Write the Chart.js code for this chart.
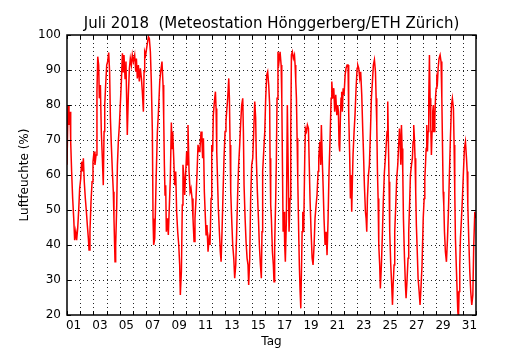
<!DOCTYPE html>
<html>
<head>
<meta charset="utf-8">
<script src="https://cdn.jsdelivr.net/npm/chart.js@4.4.1/dist/chart.umd.min.js"></script>
<style>html,body{margin:0;padding:0;background:#fff;overflow:hidden}canvas{display:block}</style>
</head>
<body>
<canvas id="chart" width="530" height="350"></canvas>
<script>
const titleText = 'Juli 2018  (Meteostation Hönggerberg/ETH Zürich)';
const xAxisLabel = 'Tag';
const yAxisLabel = 'Luftfeuchte (%)';
const labelDays = [1,3,5,7,9,11,13,15,17,19,21,23,25,27,29,31];
const dayLabels = ['01','03','05','07','09','11','13','15','17','19','21','23','25','27','29','31'];
const yTickValues = [20,30,40,50,60,70,80,90,100];

// [day of July (fractional), relative humidity %]
const days01to06 = [
[1.00,62.9],[1.08,80],[1.15,74.3],[1.23,78.1],[1.28,69.5],[1.35,61],[1.43,53.3],[1.51,47.6],[1.58,41.4],[1.66,43.8],
[1.73,41.4],[1.81,44.8],[1.88,49.5],[1.96,56.2],[2.04,59],[2.11,63.8],[2.19,61],[2.24,64.8],[2.31,58],[2.39,53.3],
[2.47,49.5],[2.54,45.7],[2.62,41.9],[2.67,38.6],[2.74,43.8],[2.82,52.4],[2.90,58.1],[2.97,63.8],[3.05,66.7],[3.12,62.9],
[3.20,65.7],[3.27,83.8],[3.33,93.8],[3.40,91.4],[3.45,81.9],[3.53,85.7],[3.60,72.4],[3.68,64.8],[3.75,57.1],[3.81,72.4],
[3.86,80],[3.93,85.7],[4.01,91.4],[4.08,92.4],[4.16,95],[4.23,89.5],[4.29,76.2],[4.36,68.6],[4.44,61],[4.51,55.2],
[4.56,47.6],[4.64,35.2],[4.69,40],[4.77,51.4],[4.82,62.9],[4.89,69.5],[4.97,74.3],[5.04,80],[5.12,86.7],[5.20,94.8],
[5.25,89.5],[5.32,94.3],[5.40,87.6],[5.47,92.4],[5.52,81.9],[5.57,71.4],[5.65,82.9],[5.73,90.5],[5.80,93.3],[5.88,91.4],
[5.95,94.3],[6.03,92.4]
];
const days06to11 = [
[6.13,94.3],[6.21,89.5],[6.26,93.3],[6.33,87.6],[6.41,91.4],[6.48,86.7],[6.56,90.5],[6.64,87.6],[6.71,83.8],[6.79,78.1],
[6.84,89.5],[6.89,95.2],[6.96,94.3],[7.07,97.1],[7.17,99.5],[7.24,99],[7.32,95.2],[7.39,86.7],[7.47,72.4],[7.52,47.6],
[7.57,40],[7.65,41.9],[7.70,49.5],[7.77,61],[7.85,72.4],[7.92,77.1],[8.03,86.7],[8.10,89.5],[8.20,92.4],[8.28,85.7],
[8.33,76.2],[8.38,62.9],[8.43,54.3],[8.48,57.1],[8.53,43.8],[8.61,47.6],[8.68,42.9],[8.76,51.4],[8.83,59],[8.91,75],
[8.96,67.6],[9.01,72.4],[9.09,64.8],[9.16,57.1],[9.24,61],[9.31,49.5],[9.39,43.8],[9.47,40],[9.54,34.3],[9.59,25.7],
[9.67,32.4],[9.74,51.4],[9.79,62.9],[9.87,59],[9.92,54.3],[10.00,61],[10.07,66.7],[10.12,62.9],[10.17,74.3],[10.25,61],
[10.33,55.2],[10.40,56.2],[10.48,53.3],[10.55,47.6],[10.63,41],[10.70,47.6],[10.78,53.3],[10.86,61],[10.93,68.6],[11.01,66.7],
[11.08,67.6],[11.16,72.4],[11.23,69.5]
];
const days11to16 = [
[11.28,64.8],[11.34,70.5],[11.41,55.2],[11.49,47.6],[11.54,42.9],[11.61,45.7],[11.69,38.1],[11.77,41.9],[11.84,40],[11.92,53.3],
[11.97,68.6],[12.04,66.7],[12.09,77.1],[12.17,81],[12.25,83.8],[12.30,79],[12.35,66.7],[12.40,60],[12.47,50.5],[12.55,43.8],
[12.62,38.1],[12.68,35.2],[12.75,43.8],[12.83,55.2],[12.90,64.8],[12.98,72.4],[13.05,75.2],[13.10,78.1],[13.18,81.9],[13.26,87.6],
[13.31,81.9],[13.36,68.6],[13.41,55.2],[13.48,47.6],[13.56,40],[13.64,36.2],[13.71,30.5],[13.79,34.3],[13.86,43.8],[13.94,55.2],
[14.01,62.9],[14.09,68.6],[14.17,75.2],[14.24,80],[14.32,81.9],[14.37,72.4],[14.42,57.1],[14.50,47.6],[14.57,41],[14.65,36.2],
[14.72,34.3],[14.77,28.6],[14.85,36.2],[14.92,53.3],[15.00,62.9],[15.08,64.8],[15.15,72.4],[15.23,81],[15.30,76.2],[15.35,64.8],
[15.43,55.2],[15.51,47.6],[15.58,40],[15.66,34.3],[15.73,30.5],[15.78,43.8],[15.83,61],[15.91,66.7],[15.99,72.4],[16.06,81.9],
[16.14,88.6],[16.21,89.5],[16.29,85.7],[16.36,80]
];
const days16to21 = [
[16.39,64.8],[16.44,51.4],[16.49,47.6],[16.57,38.1],[16.64,34.3],[16.69,29.5],[16.74,40],[16.82,53.3],[16.87,64.8],[16.92,81.9],
[16.99,95.2],[17.07,92.4],[17.15,95.2],[17.23,91.4],[17.28,81.9],[17.33,62.9],[17.38,43.8],[17.45,49.5],[17.50,40],[17.55,35.2],
[17.63,47.6],[17.70,80],[17.78,58.1],[17.83,43.8],[17.91,53.3],[17.96,72.4],[18.01,94.3],[18.08,95.2],[18.16,93.3],[18.24,94.3],
[18.29,91.4],[18.34,86.7],[18.39,81.9],[18.44,70.5],[18.49,59],[18.56,43.8],[18.61,34.3],[18.67,26.7],[18.72,21.9],[18.77,32.4],
[18.82,43.8],[18.87,49.5],[18.94,43.8],[19.02,64.8],[19.07,73.3],[19.15,72.4],[19.22,74.3],[19.30,73.3],[19.35,64.8],[19.42,53.3],
[19.50,43.8],[19.58,36.2],[19.65,34.3],[19.73,40],[19.80,47.6],[19.88,51.4],[19.95,54.3],[20.03,61],[20.08,64.8],[20.16,69.5],
[20.23,62.9],[20.28,74.3],[20.36,62.9],[20.41,57.1],[20.48,47.6],[20.56,40],[20.64,43.8],[20.71,37.1],[20.79,47.6],[20.86,61],
[20.94,70.5],[21.02,81.9],[21.07,86.7],[21.14,81.9],[21.22,84.8],[21.29,78.1],[21.37,82.9],[21.45,77.1],[21.52,80]
];
const days21to26 = [
[21.57,78.1],[21.62,68.6],[21.67,66.7],[21.72,76.2],[21.77,81.9],[21.82,83.8],[21.87,78.1],[21.93,84.8],[22.00,82.9],[22.08,88.6],
[22.15,90.5],[22.23,91.4],[22.30,91.4],[22.35,78.1],[22.43,64.8],[22.48,53.3],[22.53,60],[22.58,49.5],[22.63,58.1],[22.68,65.7],
[22.76,72.4],[22.83,77.1],[22.91,84.8],[22.99,90.5],[23.04,91.4],[23.11,90.5],[23.19,87.6],[23.26,89.5],[23.34,82.9],[23.42,72.4],
[23.47,66.7],[23.54,57.1],[23.62,49.5],[23.67,47.6],[23.72,43.8],[23.77,53.3],[23.85,60],[23.92,62.9],[24.00,72.4],[24.07,81.9],
[24.15,86.7],[24.22,91.4],[24.30,92.9],[24.38,89.5],[24.43,81.9],[24.48,74.3],[24.53,61],[24.58,53.3],[24.63,40],[24.70,34.3],
[24.75,27.6],[24.83,34.3],[24.91,43.8],[24.98,53.3],[25.06,61],[25.13,64.8],[25.21,69.5],[25.26,72.4],[25.31,81],[25.36,69.5],
[25.41,58.1],[25.46,43.8],[25.54,34.3],[25.61,28.6],[25.67,22.9],[25.72,28.6],[25.79,34.3],[25.84,43.8],[25.92,51.4],[25.99,59],
[26.07,62.9],[26.15,69.5],[26.20,73.3],[26.25,69.5],[26.30,62.9],[26.35,74.3],[26.40,67.6],[26.45,61],[26.50,47.6],[26.58,36.2],
[26.65,28.6]
];
const days26to31 = [
[26.70,24.8],[26.78,30.5],[26.85,36.2],[26.90,43.8],[26.98,53.3],[27.03,60],[27.11,62.9],[27.18,64.8],[27.23,69.5],[27.28,74.3],
[27.33,70.5],[27.38,64.8],[27.43,55.2],[27.48,45.7],[27.54,39],[27.61,30.5],[27.69,26.7],[27.76,22.9],[27.84,28.6],[27.91,34.3],
[28.00,47.6],[28.07,53.3],[28.12,59],[28.17,62.9],[28.22,67.6],[28.27,74.3],[28.32,66.7],[28.37,72.4],[28.42,81.9],[28.47,94.3],
[28.52,81.9],[28.57,74.3],[28.62,65.7],[28.67,72.4],[28.72,78.1],[28.77,80],[28.82,72.4],[28.88,76.2],[28.93,81.9],[28.98,84.8],
[29.03,87.6],[29.08,86.7],[29.13,90.5],[29.20,93.3],[29.28,94.3],[29.35,92.4],[29.41,81.9],[29.46,68.6],[29.51,55.2],[29.56,51.4],
[29.61,43.8],[29.68,38.1],[29.76,35.2],[29.84,41.9],[29.91,49.5],[29.99,61],[30.06,70.5],[30.14,80],[30.21,81.9],[30.29,79],
[30.34,68.6],[30.39,55.2],[30.44,41.9],[30.52,32.4],[30.57,26.7],[30.62,21],[30.67,19],[30.72,26.7],[30.77,34.3],[30.82,41.9],
[30.90,47.6],[30.97,53.3],[31.05,61],[31.12,67.6],[31.20,69.5],[31.28,64.8],[31.33,61],[31.38,51.4],[31.45,41.9],[31.53,32.4],
[31.60,26.7],[31.68,22.9],[31.76,25.7],[31.83,40],[31.91,49.5],[31.96,47.6]
];

const allReadings = [].concat(days01to06, days06to11, days11to16, days16to21, days21to26, days26to31);
const points = allReadings.map(r => ({ x: r[0], y: r[1] }));

const FONT = '"DejaVu Sans", sans-serif';

const framePlugin = {
  id: 'frame',
  beforeDatasetsDraw(chart) {
    const { ctx, chartArea: a, scales: { x, y } } = chart;
    ctx.save();
    ctx.strokeStyle = 'rgba(0,0,0,0.85)';
    ctx.lineWidth = 1;
    ctx.setLineDash([1, 3]);
    ctx.beginPath();
    for (let d = Math.ceil(x.min) + 1; d < x.max; d++) {
      const px = Math.round(x.getPixelForValue(d)) + 0.5;
      ctx.moveTo(px, a.top); ctx.lineTo(px, a.bottom);
    }
    for (const v of yTickValues) {
      if (v <= y.min || v >= y.max) continue;
      const py = Math.round(y.getPixelForValue(v)) + 0.5;
      ctx.moveTo(a.left, py); ctx.lineTo(a.right, py);
    }
    ctx.stroke();
    ctx.restore();
  },
  afterDatasetsDraw(chart) {
    const { ctx, chartArea: a, scales: { x, y } } = chart;
    ctx.save();
    ctx.strokeStyle = '#000';
    ctx.lineWidth = 1;
    ctx.setLineDash([]);
    ctx.beginPath();
    for (let d = Math.ceil(x.min); d <= x.max; d++) {
      const px = Math.round(x.getPixelForValue(d)) + 0.5;
      ctx.moveTo(px, a.bottom); ctx.lineTo(px, a.bottom - 4);
      ctx.moveTo(px, a.top); ctx.lineTo(px, a.top + 4);
    }
    for (const v of yTickValues) {
      const py = Math.round(y.getPixelForValue(v)) + 0.5;
      ctx.moveTo(a.left, py); ctx.lineTo(a.left + 4, py);
      ctx.moveTo(a.right, py); ctx.lineTo(a.right - 4, py);
    }
    ctx.stroke();
    ctx.lineWidth = 1.5;
    ctx.strokeRect(a.left, a.top, a.right - a.left, a.bottom - a.top);
    ctx.restore();
  }
};

new Chart(document.getElementById('chart'), {
  type: 'line',
  data: {
    datasets: [{
      data: points,
      borderColor: '#ff0000',
      borderWidth: 1.5,
      pointRadius: 0,
      tension: 0,
      fill: false
    }]
  },
  options: {
    responsive: false,
    animation: false,
    devicePixelRatio: 1,
    layout: { padding: { left: 13, right: 0, top: 0, bottom: 0 } },
    plugins: {
      legend: { display: false },
      tooltip: { enabled: false },
      title: {
        display: true,
        text: titleText,
        color: '#000',
        font: { family: FONT, size: 15, weight: 'normal' },
        padding: { top: 15, bottom: 2 }
      }
    },
    scales: {
      x: {
        type: 'linear',
        min: 1,
        max: 32,
        afterBuildTicks: s => { s.ticks = labelDays.map(d => ({ value: d + 0.5 })); },
        afterFit: s => { s.height = 35; },
        grid: { display: false, drawTicks: false },
        border: { display: false },
        ticks: {
          autoSkip: false,
          maxRotation: 0,
          padding: 4,
          color: '#000',
          font: { family: FONT, size: 12 },
          callback: v => {
            const i = labelDays.indexOf(Math.round(v - 0.5));
            return i >= 0 ? dayLabels[i] : '';
          }
        },
        title: {
          display: true,
          text: xAxisLabel,
          color: '#000',
          font: { family: FONT, size: 12 },
          padding: { top: 0, bottom: 0.5 }
        }
      },
      y: {
        min: 20,
        max: 100,
        afterBuildTicks: s => { s.ticks = yTickValues.map(v => ({ value: v })); },
        afterFit: s => { s.width = 54; },
        grid: { display: false, drawTicks: false },
        border: { display: false },
        ticks: {
          padding: 6,
          color: '#000',
          font: { family: FONT, size: 12 }
        },
        title: {
          display: true,
          text: yAxisLabel,
          color: '#000',
          font: { family: FONT, size: 12 },
          padding: { top: 5, bottom: 0 }
        }
      },
      yRight: {
        position: 'right',
        min: 20,
        max: 100,
        afterFit: s => { s.width = 54; },
        grid: { display: false, drawTicks: false },
        border: { display: false },
        ticks: { display: false }
      }
    }
  },
  plugins: [framePlugin]
});
</script>
</body>
</html>
